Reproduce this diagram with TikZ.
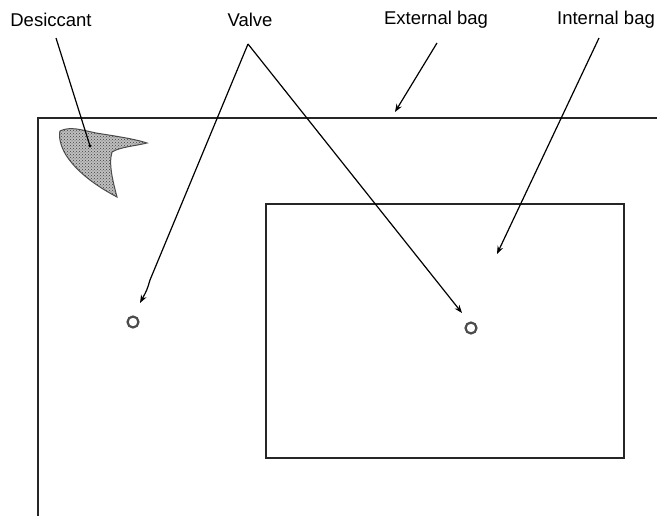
\documentclass[tikz,border=0pt]{standalone}
\usepackage{fontspec}
\setmainfont{Liberation Sans}
\usetikzlibrary{arrows.meta,patterns}
\begin{document}
\begin{tikzpicture}[x=1pt,y=-1pt,
  lbl/.style={inner sep=0pt,font=\fontsize{18.5}{20}\selectfont},
  bag/.style={line width=2.3pt,draw=black!85},
  ptr/.style={line width=1.2pt,-{Stealth[length=8pt,width=6pt]}},
  valve/.style={circle,draw=black!70,line width=2.2pt,minimum size=11pt,inner sep=0pt}]
\useasboundingbox (0,0) rectangle (657,516);
% labels
\node[lbl] (ldes) at (51,20) {Desiccant};
\node[lbl] (lval) at (250,20) {Valve};
\node[lbl] (lext) at (436,20) {External bag};
\node[lbl] (lint) at (606,20) {Internal bag};
% external bag (open to right and bottom)
\draw[bag] (657,118) -- (38,118) -- (38,516);
% internal bag
\draw[bag] (266,204) rectangle (624,458);
% desiccant
\draw[line width=1pt,draw=black!70,fill=gray!50,postaction={pattern=crosshatch dots,pattern color=black!75}]
  (60,131) .. controls (70,126) and (82,130) .. (96,133)
  .. controls (115,136) and (135,139) .. (147,143)
  .. controls (135,146) and (120,147) .. (112,152)
  .. controls (108,165) and (114,185) .. (117,197)
  .. controls (100,188) and (80,175) .. (68,158)
  .. controls (62,150) and (58,138) .. (60,131) -- cycle;
\coordinate (desdot) at (90,146);
\fill (desdot) circle (1.6pt);
% valves
\node[valve] (v1) at (133,322) {};
\node[valve] (v2) at (471,328) {};
% pointers
\coordinate (vapex) at (248,44);
\draw[line width=1.2pt] (56,38) -- (desdot);
\draw[ptr] (vapex) -- (150,280) .. controls (147,290) .. (140,303);
\draw[ptr] (vapex) -- (462,313);
\draw[ptr] (437,43) -- (395,112);
\draw[ptr] (599,38) -- (497,254);
\end{tikzpicture}
\end{document}
